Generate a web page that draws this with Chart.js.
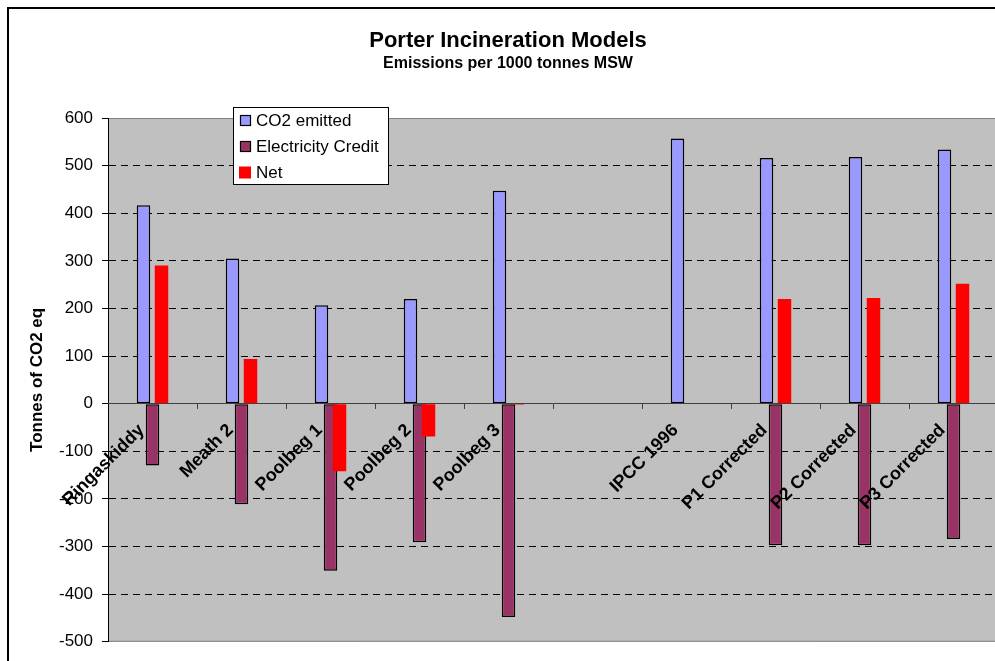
<!DOCTYPE html>
<html>
<head>
<meta charset="utf-8">
<script src="https://cdn.jsdelivr.net/npm/chart.js@4"></script>
<style>
  html, body { margin: 0; padding: 0; background: #fff; overflow: hidden; width: 995px; height: 661px; }
  #wrap { position: absolute; left: 0; top: 0; width: 1010px; height: 661px; }
</style>
</head>
<body>
<div id="wrap"><canvas id="c" width="1010" height="661"></canvas></div>
<script>
// ---- data ----
const categories = ['Ringaskiddy', 'Meath 2', 'Poolbeg 1', 'Poolbeg 2', 'Poolbeg 3', '', 'IPCC 1996', 'P1 Corrected', 'P2 Corrected', 'P3 Corrected'];
const co2Emitted = [417, 305, 207, 220, 447, null, 557, 516, 518, 534];
const electricityCredit = [-130, -211, -351, -291, -448, null, null, -297, -297, -284];
const net = [290, 94, -142, -69, -2, null, null, 220, 222, 252];
const seriesNames = ['CO2 emitted', 'Electricity Credit', 'Net'];
const yTicks = { min: -500, max: 600, step: 100 };
const titleText = 'Porter Incineration Models';
const subtitleText = 'Emissions per 1000 tonnes MSW';
const yAxisTitle = 'Tonnes of CO2 eq';

const FONT = "'Liberation Sans', Arial, Helvetica, sans-serif";
Chart.defaults.font.family = FONT;
Chart.defaults.color = '#000';

// background, plot area fill, frame and outer border
const backgroundPlugin = {
  id: 'bgFrame',
  beforeDraw(chart) {
    const { ctx, chartArea: a, width, height } = chart;
    ctx.save();
    ctx.fillStyle = '#fff';
    ctx.fillRect(0, 0, width, height);
    ctx.fillStyle = '#C0C0C0';
    ctx.fillRect(a.left, a.top, a.right - a.left, a.bottom - a.top);
    ctx.strokeStyle = '#808080';
    ctx.lineWidth = 1;
    ctx.beginPath();
    ctx.moveTo(a.left, a.top + 0.5); ctx.lineTo(a.right, a.top + 0.5);
    ctx.moveTo(a.left, a.bottom - 0.5); ctx.lineTo(a.right, a.bottom - 0.5);
    ctx.moveTo(a.right - 0.5, a.top); ctx.lineTo(a.right - 0.5, a.bottom);
    ctx.stroke();
    ctx.strokeStyle = '#000';
    ctx.lineWidth = 2;
    ctx.strokeRect(8, 8, width + 50, height + 50);
    ctx.restore();
  }
};

// draw datasets so later series lie on top (as in the original)
const orderPlugin = {
  id: 'seriesOrder',
  beforeDatasetsDraw(chart) {
    const { ctx, chartArea: a } = chart;
    const metas = chart.getSortedVisibleDatasetMetas().slice().sort((p, q) => p.index - q.index);
    for (const meta of metas) {
      ctx.save();
      ctx.beginPath();
      ctx.rect(a.left, a.top, a.right - a.left, a.bottom - a.top);
      ctx.clip();
      meta.controller.draw();
      ctx.restore();
    }
    return false;
  }
};

// boxed legend inside the plot, top-left
const boxLegendPlugin = {
  id: 'boxLegend',
  afterDraw(chart) {
    const ctx = chart.ctx;
    const bx = 233, by = 107, bw = 155, bh = 77;
    ctx.save();
    ctx.fillStyle = '#fff';
    ctx.fillRect(bx, by, bw, bh);
    ctx.strokeStyle = '#000';
    ctx.lineWidth = 1;
    ctx.strokeRect(bx + 0.5, by + 0.5, bw, bh);
    ctx.font = '17px ' + FONT;
    ctx.textBaseline = 'middle';
    ctx.textAlign = 'left';
    chart.data.datasets.forEach((ds, i) => {
      const cy = 120.5 + i * 26;
      if (ds.borderWidth > 0) {
        ctx.fillStyle = ds.backgroundColor;
        ctx.fillRect(240, cy - 5.5, 11, 11);
        ctx.strokeStyle = ds.borderColor;
        ctx.lineWidth = 1.2;
        ctx.strokeRect(240.5, cy - 5, 10, 10);
      } else {
        ctx.fillStyle = ds.backgroundColor;
        ctx.fillRect(239, cy - 6, 12, 12);
      }
      ctx.fillStyle = '#000';
      ctx.fillText(ds.label, 256, cy + 1);
    });
    ctx.restore();
  }
};

const hiddenGridValues = [yTicks.max, 0, yTicks.min];

new Chart(document.getElementById('c'), {
  type: 'bar',
  data: {
    labels: categories,
    datasets: [
      { label: seriesNames[0], data: co2Emitted, backgroundColor: '#9999FF', borderColor: '#000', borderWidth: 1.5, borderSkipped: false },
      { label: seriesNames[1], data: electricityCredit, backgroundColor: '#993366', borderColor: '#000', borderWidth: 1.5, borderSkipped: false },
      { label: seriesNames[2], data: net, backgroundColor: '#FF0000', borderColor: '#FF0000', borderWidth: 0, borderSkipped: false }
    ]
  },
  options: {
    responsive: false,
    animation: false,
    events: [],
    categoryPercentage: 27 / 89,
    barPercentage: 1.5,
    layout: { padding: { left: 18, right: 12, top: 0, bottom: 19 } },
    plugins: {
      legend: { display: false },
      tooltip: { enabled: false },
      title: {
        display: true, text: titleText, color: '#000',
        font: { size: 22, weight: 'bold' },
        padding: { top: 28, bottom: 0 }
      },
      subtitle: {
        display: true, text: subtitleText, color: '#000',
        font: { size: 16, weight: 'bold' },
        padding: { top: 0, bottom: 44.4 }
      }
    },
    scales: {
      x: {
        type: 'category',
        position: { y: 0 },
        offset: true,
        grid: { display: true, drawOnChartArea: false, drawTicks: true, tickLength: 5, tickColor: '#404040', offset: true },
        border: { display: true, color: '#404040', width: 1, z: 1 },
        ticks: {
          autoSkip: false, minRotation: 45, maxRotation: 45,
          font: { size: 18, weight: 'bold' }, color: '#000',
          padding: 11, labelOffset: -11, z: 1
        }
      },
      y: {
        min: yTicks.min, max: yTicks.max,
        afterFit(scale) { scale.width = 90; },
        grid: {
          color: (c) => hiddenGridValues.includes(c.tick && c.tick.value) ? 'rgba(0,0,0,0)' : '#000',
          lineWidth: 1, tickLength: 6, tickColor: '#000', tickBorderDash: [], drawTicks: true
        },
        border: { display: true, color: '#000', width: 1, dash: [7, 5] },
        ticks: { stepSize: yTicks.step, padding: 9, font: { size: 17 }, color: '#000' },
        title: { display: true, text: yAxisTitle, color: '#000', font: { size: 17, weight: 'bold' }, padding: { top: 9, bottom: 0 } }
      }
    }
  },
  plugins: [backgroundPlugin, orderPlugin, boxLegendPlugin]
});
</script>
</body>
</html>
